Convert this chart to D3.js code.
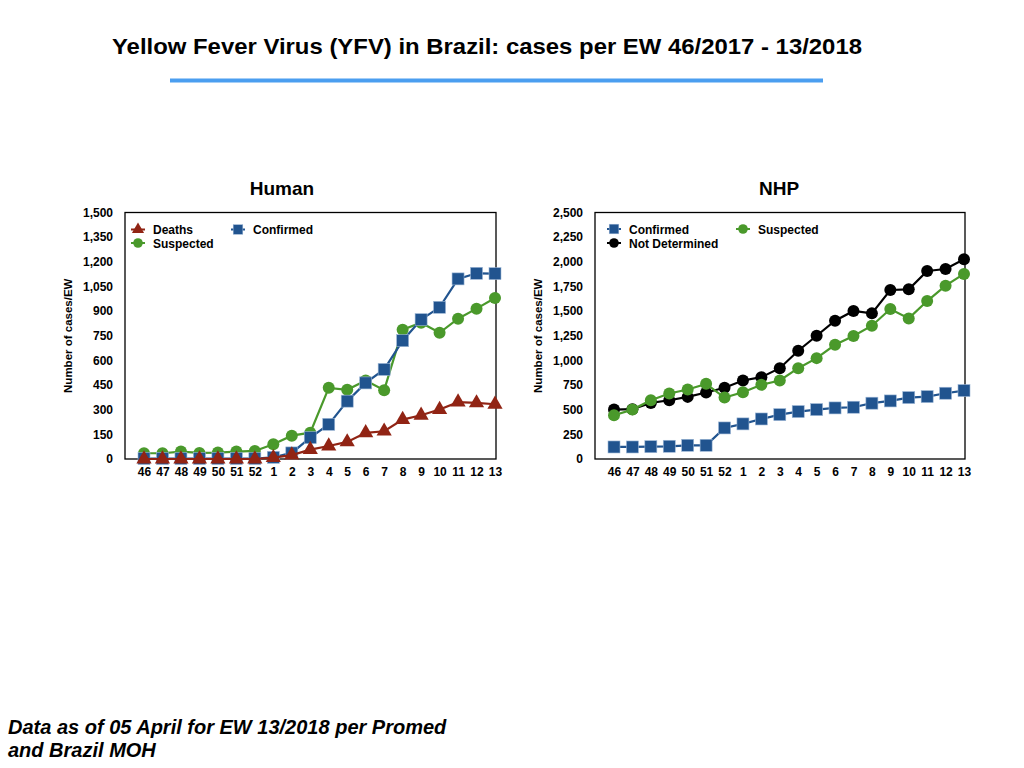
<!DOCTYPE html>
<html>
<head>
<meta charset="utf-8">
<script src="https://cdn.jsdelivr.net/npm/d3@7"></script>
<style>
  html, body { margin: 0; padding: 0; background: #fff; }
  svg { display: block; font-family: "Liberation Sans", Arial, Helvetica, sans-serif; }
</style>
</head>
<body>
<svg id="chart" width="1024" height="768"></svg>
<script>
// Epidemiological weeks 46/2017 .. 13/2018
const weeks = ["46", "47", "48", "49", "50", "51", "52", "1", "2", "3", "4", "5", "6", "7", "8", "9", "10", "11", "12", "13"];

// Human
const humanSuspected = [35, 35, 45, 37, 39, 45, 49, 90, 142, 160, 433, 421, 478, 419, 787, 829, 768, 854, 915, 980];
const humanConfirmed = [3, 3, 3, 3, 3, 3, 3, 10, 37, 130, 211, 352, 463, 545, 720, 848, 923, 1096, 1130, 1128];
const humanDeaths = [0, 0, 0, 0, 0, 0, 0, 8, 24, 57, 79, 104, 159, 169, 240, 266, 301, 346, 341, 333];
const humanTicks = [0, 150, 300, 450, 600, 750, 900, 1050, 1200, 1350, 1500];

// Non-human primates
const nhpConfirmed = [122, 122, 125, 129, 139, 139, 315, 356, 406, 450, 481, 501, 518, 525, 566, 589, 623, 633, 667, 694];
const nhpSuspected = [444, 501, 596, 664, 705, 762, 623, 677, 752, 796, 921, 1023, 1158, 1247, 1352, 1521, 1426, 1602, 1758, 1877];
const nhpUndetermined = [501, 505, 569, 596, 630, 674, 722, 796, 830, 921, 1098, 1250, 1402, 1501, 1477, 1714, 1721, 1907, 1927, 2026];
const nhpTicks = [0, 250, 500, 750, 1000, 1250, 1500, 1750, 2000, 2250, 2500];

const RED = "#912414", BLUE = "#21548f", GREEN = "#4a992b", BLACK = "#000";

const svg = d3.select("#chart");

// Page title + rule
svg.append("text")
    .attr("x", 487).attr("y", 54)
    .attr("text-anchor", "middle")
    .attr("font-size", "22px").attr("font-weight", "bold")
    .attr("textLength", 750).attr("lengthAdjust", "spacingAndGlyphs")
    .text("Yellow Fever Virus (YFV) in Brazil: cases per EW 46/2017 - 13/2018");

svg.append("rect")
    .attr("x", 170).attr("y", 78.5)
    .attr("width", 653).attr("height", 4)
    .attr("fill", "#4b9ef0");

// Footnote
const foot = svg.append("text")
    .attr("font-size", "20px").attr("font-weight", "bold").attr("font-style", "italic");
foot.append("tspan").attr("x", 8).attr("y", 734).text("Data as of 05 April for EW 13/2018 per Promed");
foot.append("tspan").attr("x", 8).attr("y", 757).text("and Brazil MOH");

function drawMarker(sel, shape, color) {
    if (shape === "square") {
        sel.append("rect")
            .attr("x", -6).attr("y", -6).attr("width", 12).attr("height", 12)
            .attr("fill", color).attr("stroke", "#9db7d6").attr("stroke-width", 0.6);
    } else if (shape === "circle") {
        sel.append("circle").attr("r", 6).attr("fill", color);
    } else {
        sel.append("path").attr("d", d3.symbol(d3.symbolTriangle, 100)()).attr("fill", color);
    }
}

function drawChart(opts) {
    const { left, right, top, bottom, first, last, title, titleX, ticks, maxY, series, legend } = opts;

    const x = d3.scalePoint().domain(weeks).range([first, last]);
    const y = d3.scaleLinear().domain([0, maxY]).range([bottom, top]);

    const g = svg.append("g");

    // Chart title
    g.append("text")
        .attr("x", titleX).attr("y", 195)
        .attr("text-anchor", "middle")
        .attr("font-size", "19px").attr("font-weight", "bold")
        .text(title);

    // Frame
    g.append("rect")
        .attr("x", left).attr("y", top)
        .attr("width", right - left).attr("height", bottom - top)
        .attr("fill", "none").attr("stroke", "#000").attr("stroke-width", 1.3);

    // Y axis (labels only)
    const yAxis = g.append("g")
        .attr("transform", `translate(${left},0)`)
        .call(d3.axisLeft(y).tickValues(ticks).tickFormat(d3.format(",")).tickSize(0).tickPadding(12));
    yAxis.select(".domain").remove();
    yAxis.selectAll("text").attr("font-size", "12px").attr("font-weight", "bold")
        .attr("font-family", null).attr("fill", "#000");

    // X axis (labels only)
    const xAxis = g.append("g")
        .attr("transform", `translate(0,${bottom})`)
        .call(d3.axisBottom(x).tickSize(0).tickPadding(8));
    xAxis.select(".domain").remove();
    xAxis.selectAll("text").attr("font-size", "12px").attr("font-weight", "bold")
        .attr("font-family", null).attr("fill", "#000");

    // Y axis title
    g.append("text")
        .attr("transform", `translate(${left - 53},${(top + bottom) / 2}) rotate(-90)`)
        .attr("text-anchor", "middle")
        .attr("font-size", "11.5px").attr("font-weight", "bold")
        .text("Number of cases/EW");

    const line = d3.line().x((d, i) => x(weeks[i])).y(d => y(d));

    series.forEach(s => {
        g.append("path")
            .datum(s.values)
            .attr("d", line)
            .attr("fill", "none")
            .attr("stroke", s.color)
            .attr("stroke-width", 2.2);

        g.selectAll(null)
            .data(s.values)
            .enter()
            .append("g")
            .attr("transform", (d, i) => `translate(${x(weeks[i])},${y(d)})`)
            .each(function () { drawMarker(d3.select(this), s.shape, s.color); });
    });

    // Legend
    legend.forEach(l => {
        const s = series.find(d => d.name === l.name);
        const lg = g.append("g").attr("transform", `translate(${left + l.dx},${top + l.dy})`);
        lg.append("line").attr("x1", -7).attr("x2", 7).attr("stroke", s.color).attr("stroke-width", 2);
        const m = lg.append("g").attr("transform", "scale(0.8)");
        drawMarker(m, s.shape, s.color);
        lg.append("text")
            .attr("x", 15).attr("y", 4.5)
            .attr("font-size", "12px").attr("font-weight", "bold")
            .text(l.name);
    });
}

drawChart({
    left: 125, right: 496, top: 212.5, bottom: 459,
    first: 144, last: 495,
    title: "Human", titleX: 282, ticks: humanTicks, maxY: 1500,
    series: [
        { name: "Suspected", values: humanSuspected, color: GREEN, shape: "circle" },
        { name: "Confirmed", values: humanConfirmed, color: BLUE, shape: "square" },
        { name: "Deaths", values: humanDeaths, color: RED, shape: "triangle" }
    ],
    legend: [
        { name: "Deaths", dx: 13, dy: 17 },
        { name: "Confirmed", dx: 113, dy: 17 },
        { name: "Suspected", dx: 13, dy: 30.5 }
    ]
});

drawChart({
    left: 595, right: 965, top: 212.5, bottom: 459,
    first: 614, last: 964,
    title: "NHP", titleX: 779, ticks: nhpTicks, maxY: 2500,
    series: [
        { name: "Confirmed", values: nhpConfirmed, color: BLUE, shape: "square" },
        { name: "Not Determined", values: nhpUndetermined, color: BLACK, shape: "circle" },
        { name: "Suspected", values: nhpSuspected, color: GREEN, shape: "circle" }
    ],
    legend: [
        { name: "Confirmed", dx: 19, dy: 16.5 },
        { name: "Suspected", dx: 148, dy: 16.5 },
        { name: "Not Determined", dx: 19, dy: 30.5 }
    ]
});
</script>
</body>
</html>
